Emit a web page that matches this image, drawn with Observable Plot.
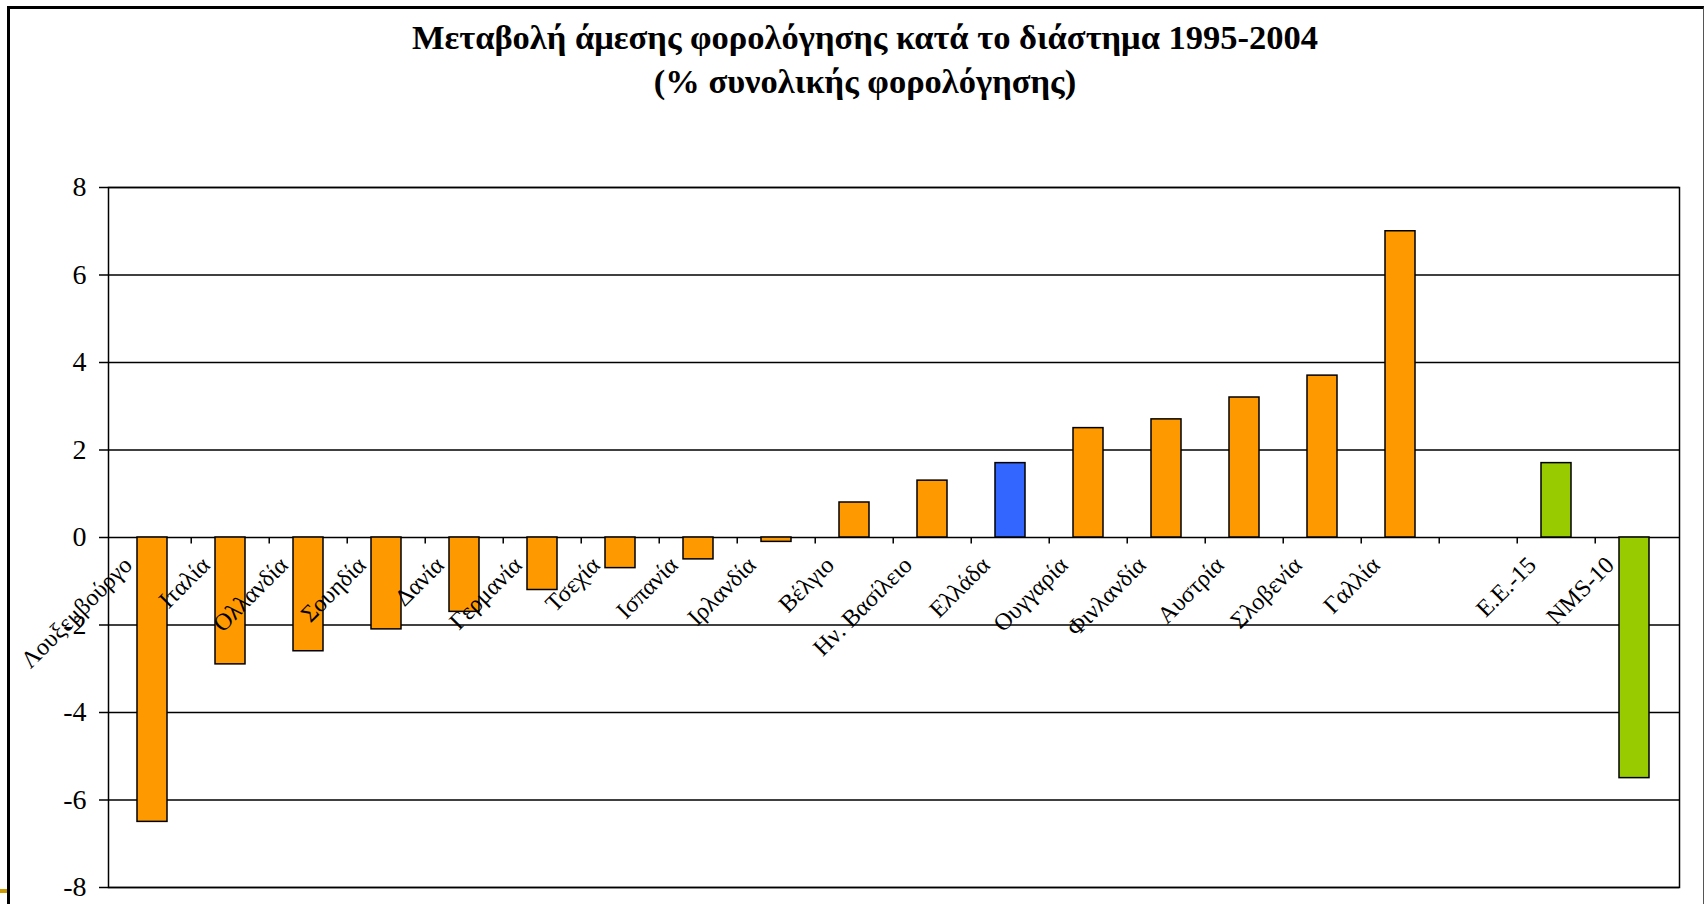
<!DOCTYPE html>
<html>
<head>
<meta charset="utf-8">
<script src="https://cdn.jsdelivr.net/npm/d3@7"></script>
<script src="https://cdn.jsdelivr.net/npm/@observablehq/plot@0.6"></script>
<style>
  html, body { margin: 0; padding: 0; background: #fff; }
  #wrap { position: relative; width: 1707px; height: 904px; overflow: hidden; background: #fff; }
  #frame { position: absolute; left: 7px; top: 6px; width: 1697px; height: 1000px;
           border-top: 3px solid #000; border-left: 3px solid #000; border-right: 1.5px solid #555; box-sizing: border-box; }
  #mark { position: absolute; left: 0; top: 889px; width: 7px; height: 4px; background: #cc9900; }
  #title { position: absolute; left: 365px; top: 16px; width: 1000px; text-align: center;
           font-family: "Liberation Serif", "Times New Roman", serif; font-weight: bold; font-size: 34.5px; line-height: 43.5px; color: #000; }
  #chart { position: absolute; left: 0; top: 0; }
</style>
</head>
<body>
<div id="wrap">
  <div id="frame"></div>
  <div id="mark"></div>
  <div id="title">Μεταβολή άμεσης φορολόγησης κατά το διάστημα 1995-2004<br>(% συνολικής φορολόγησης)</div>
  <div id="chart"></div>
</div>
<script>
const categories = ["Λουξεμβούργο","Ιταλία","Ολλανδία","Σουηδία","Δανία","Γερμανία","Τσεχία","Ισπανία","Ιρλανδία","Βέλγιο","Ην. Βασίλειο","Ελλάδα","Ουγγαρία","Φινλανδία","Αυστρία","Σλοβενία","Γαλλία","","Ε.Ε.-15","NMS-10"];
const values = [-6.5,-2.9,-2.6,-2.1,-1.7,-1.2,-0.7,-0.5,-0.1,0.8,1.3,1.7,2.5,2.7,3.2,3.7,7.0,null,1.7,-5.5];
const groups = ["country","country","country","country","country","country","country","country","country","country","country","greece","country","country","country","country","country","none","aggregate","aggregate"];
const groupColors = {country: "#ff9900", greece: "#3366ff", aggregate: "#99cc00", none: "none"};
const yTicks = [-8,-6,-4,-2,0,2,4,6,8];

const data = categories.map((c, i) => ({category: c, value: values[i], group: groups[i]}));
const bars = data.filter(d => d.value != null);

const W = 1707, H = 904, ML = 108, MR = 28, MT = 187, MB = 17;
const step = (W - ML - MR) / categories.length;
const boundaryCats = categories.slice(1);

const chart = Plot.plot({
  width: W, height: H,
  marginLeft: ML, marginRight: MR, marginTop: MT, marginBottom: MB,
  style: {fontFamily: "'Liberation Serif', 'Times New Roman', serif", background: "transparent", color: "#000", overflow: "visible"},
  x: {domain: categories, paddingInner: 0.61, paddingOuter: 0.305, axis: null},
  y: {domain: [-8, 8], axis: null},
  marks: [
    Plot.ruleY(yTicks, {stroke: "#000", strokeWidth: 1.5}),
    Plot.frame({stroke: "#000", strokeWidth: 1.5}),
    Plot.ruleX(boundaryCats, {x: d => d, y1: 0, y2: -0.15, dx: -step / 2, stroke: "#000", strokeWidth: 1.5}),
    Plot.barY(bars, {x: "category", y: "value", fill: d => groupColors[d.group], stroke: "#000", strokeWidth: 1.5}),
    Plot.axisY({ticks: yTicks, label: null, tickSize: 9, tickPadding: 13, tickFormat: d => String(d), fontSize: 28, stroke: "#000", strokeWidth: 1.5, fill: "#000"}),
    Plot.text(data, {x: "category", y: 0, text: "category", rotate: -45, textAnchor: "end", lineAnchor: "bottom", dx: -19, dy: 29, fontSize: 24, fill: "#000"})
  ]
});
document.getElementById("chart").appendChild(chart);
</script>
</body>
</html>
